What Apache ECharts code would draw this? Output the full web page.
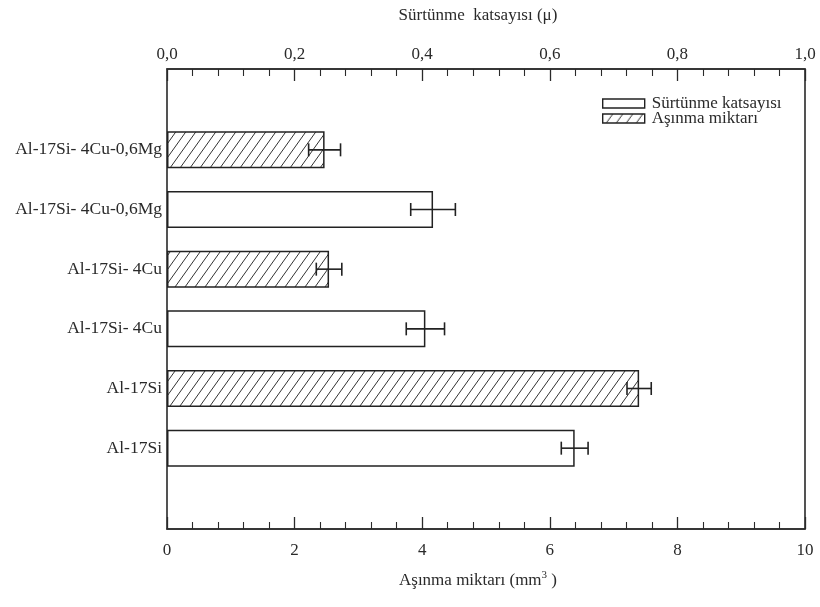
<!DOCTYPE html>
<html><head><meta charset="utf-8">
<script src="https://cdn.jsdelivr.net/npm/echarts@6/dist/echarts.min.js"></script>
<style>html,body{margin:0;padding:0;background:#fff}#c{width:820px;height:607px}</style>
</head><body><div id="c"></div>
<script>
// ---- data ----
const categories = ['Al-17Si- 4Cu-0,6Mg','Al-17Si- 4Cu-0,6Mg','Al-17Si- 4Cu','Al-17Si- 4Cu','Al-17Si','Al-17Si'];
const wear       = [2.47, '-', 2.54, '-', 7.40, '-'];      // Aşınma miktarı (mm3)
const wearErr    = [0.25, '-', 0.20, '-', 0.19, '-'];
const friction   = ['-', 0.417, '-', 0.405, '-', 0.639];   // Sürtünme katsayısı (μ)
const frictionErr= ['-', 0.035, '-', 0.030, '-', 0.021];
const seriesNames = ['Sürtünme katsayısı', 'Aşınma miktarı'];
const topAxisName = 'Sürtünme  katsayısı (μ)';
const bottomAxisName = 'Aşınma miktarı (mm{sup|3} )';

const FONT = "'Liberation Serif','Times New Roman',serif";
const INK = '#2a2a2a';

// hatch pattern (steep diagonal lines)
const pc = document.createElement('canvas');
const W = 10, H = 14; pc.width = W; pc.height = H;
const g = pc.getContext('2d');
g.fillStyle = '#fff'; g.fillRect(0,0,W,H);
g.strokeStyle = '#333'; g.lineWidth = 1.0;
g.beginPath();
g.moveTo(0, H); g.lineTo(W, 0);
g.moveTo(-W, H); g.lineTo(0, 0);
g.moveTo(W, H); g.lineTo(2*W, 0);
g.stroke();
const hatch = {image: pc, repeat: 'repeat'};

function errData(vals, errs){
  const out = [];
  vals.forEach((v,i)=>{ if (v !== '-') out.push([v - errs[i], v + errs[i], i]); });
  return out;
}
function errRender(params, api){
  const lo = api.coord([api.value(0), api.value(2)]);
  const hi = api.coord([api.value(1), api.value(2)]);
  const cap = 6.5;
  const st = {stroke: '#222', lineWidth: 1.6};
  return {type:'group', children:[
    {type:'line', shape:{x1:lo[0], y1:lo[1], x2:hi[0], y2:hi[1]}, style:st},
    {type:'line', shape:{x1:lo[0], y1:lo[1]-cap, x2:lo[0], y2:lo[1]+cap}, style:st},
    {type:'line', shape:{x1:hi[0], y1:hi[1]-cap, x2:hi[0], y2:hi[1]+cap}, style:st}
  ]};
}

const axisLine = {show:true, lineStyle:{color:INK, width:1.6}};
const chart = echarts.init(document.getElementById('c'), null, {renderer:'canvas'});
chart.setOption({
  animation: false,
  backgroundColor: '#fff',
  textStyle: {fontFamily: FONT},
  grid: [
    {left:167, right:15, top:69, bottom:78, show:true, borderColor:INK, borderWidth:1.6,
     containLabel:false, outerBoundsMode:'none'},
    {left:167, right:15, top:120, bottom:129, containLabel:false, outerBoundsMode:'none'}
  ],
  legend: {
    data: seriesNames, orient:'vertical', left:597, top:90, icon:'rect',
    itemWidth:42, itemHeight:9, itemGap:-2,
    textStyle:{fontFamily:FONT, fontSize:17, color:INK, padding:[0,0,0,2]},
    itemStyle:{borderColor:'#222', borderWidth:1.4}
  },
  xAxis: [
    {gridIndex:0, type:'value', position:'bottom', min:0, max:10, interval:2,
     axisLine:axisLine, axisTick:{inside:true, length:12, lineStyle:{color:INK, width:1.3}},
     minorTick:{show:true, splitNumber:5, length:7, lineStyle:{color:INK, width:1.1}},
     splitLine:{show:false},
     axisLabel:{fontFamily:FONT, fontSize:17, color:INK, margin:13},
     name: bottomAxisName, nameLocation:'middle', nameGap:41,
     nameTextStyle:{fontFamily:FONT, fontSize:17, color:INK, padding:[0,16,0,0],
       rich:{sup:{fontFamily:FONT, fontSize:11, color:INK, verticalAlign:'top', padding:[0,0,11,0]}}}},
    {gridIndex:0, type:'value', position:'top', min:0, max:1, interval:0.2,
     axisLine:axisLine, axisTick:{inside:true, length:12, lineStyle:{color:INK, width:1.3}},
     minorTick:{show:true, splitNumber:5, length:7, lineStyle:{color:INK, width:1.1}},
     splitLine:{show:false},
     axisLabel:{fontFamily:FONT, fontSize:17, color:INK, margin:6, formatter:v=>v.toFixed(1).replace('.',',')},
     name: topAxisName, nameLocation:'middle', nameGap:45,
     nameTextStyle:{fontFamily:FONT, fontSize:17, color:INK, padding:[0,16,0,0]}},
    {gridIndex:1, type:'value', min:0, max:10, show:false},
    {gridIndex:1, type:'value', min:0, max:1, show:false}
  ],
  yAxis: [
    {gridIndex:0, type:'value', min:0, max:1, show:false},
    {gridIndex:1, type:'category', data:categories, inverse:true,
     axisLine:{show:false}, axisTick:{show:false}, splitLine:{show:false},
     axisLabel:{fontFamily:FONT, fontSize:17.5, color:INK, margin:5}}
  ],
  series: [
    {name:seriesNames[0], type:'bar', xAxisIndex:3, yAxisIndex:1, data:friction,
     barWidth:37, barGap:'-100%',
     itemStyle:{color:'#fff', borderColor:'#222', borderWidth:1.5}},
    {name:seriesNames[1], type:'bar', xAxisIndex:2, yAxisIndex:1, data:wear,
     barWidth:37, barGap:'-100%',
     itemStyle:{color:hatch, borderColor:'#222', borderWidth:1.5}},
    {name:'errF', type:'custom', xAxisIndex:3, yAxisIndex:1, data:errData(friction, frictionErr),
     renderItem:errRender, z:5},
    {name:'errW', type:'custom', xAxisIndex:2, yAxisIndex:1, data:errData(wear, wearErr),
     renderItem:errRender, z:5}
  ]
});
</script></body></html>
